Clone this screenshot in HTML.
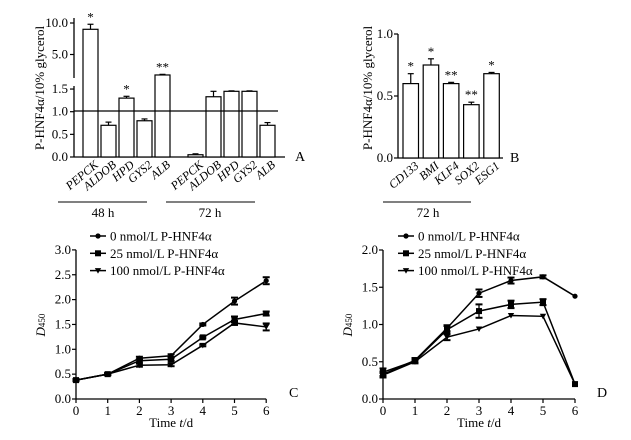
<!DOCTYPE html>
<html><head><meta charset="utf-8">
<style>
html,body{margin:0;padding:0;background:#fff;}
svg, svg text{font-family:"Liberation Serif","DejaVu Serif",serif;}
</style></head>
<body>
<svg id="fig" width="631" height="435" viewBox="0 0 631 435" xmlns="http://www.w3.org/2000/svg" font-family="Liberation Serif, DejaVu Serif, serif"></svg>
<script>
// Panel A data
const aGenes = ["PEPCK","ALDOB","HPD","GYS2","ALB"];
const a48 = [9.0, 0.70, 1.30, 0.80, 1.75];
const a48err = [0.8, 0.07, 0.04, 0.04, 0.1];
const a48sig = ["*","","*","","**"];
const a72 = [0.05, 1.33, 1.45, 1.45, 0.70];
const a72err = [0.02, 0.12, 0.01, 0.01, 0.06];
const aLowTicks = ["0.0","0.5","1.0","1.5"];
const aHighTicks = ["5.0","10.0"];
// Panel B data
const bGenes = ["CD133","BMI","KLF4","SOX2","ESG1"];
const bVals = [0.60, 0.75, 0.60, 0.43, 0.68];
const bErr = [0.08, 0.05, 0.01, 0.02, 0.01];
const bSig = ["*","*","**","**","*"];
const bTicks = ["0.0","0.5","1.0"];
// Panel C data
const days = [0,1,2,3,4,5,6];
const c0 = [0.38,0.50,0.82,0.87,1.50,1.97,2.38];
const c0err = [0.02,0.02,0.03,0.03,0.02,0.07,0.07];
const c25 = [0.38,0.50,0.77,0.80,1.24,1.60,1.72];
const c25err = [0.02,0.02,0.03,0.03,0.02,0.06,0.04];
const c100 = [0.38,0.50,0.68,0.69,1.08,1.53,1.45];
const c100err = [0.02,0.02,0.03,0.03,0.02,0.04,0.07];
const cTicks = ["0.0","0.5","1.0","1.5","2.0","2.5","3.0"];
// Panel D data
const d0 = [0.33,0.52,0.95,1.42,1.59,1.64,1.38];
const d0err = [0.04,0.03,0.04,0.05,0.04,0.02,0.01];
const d25 = [0.36,0.51,0.93,1.18,1.27,1.30,0.20];
const d25err = [0.05,0.03,0.05,0.09,0.05,0.04,0.01];
const d100 = [0.32,0.50,0.83,0.94,1.12,1.11,0.20];
const d100err = [0.03,0.02,0.04,0.01,0.01,0.01,0.01];
const dTicks = ["0.0","0.5","1.0","1.5","2.0"];
const seriesNames = ["0 nmol/L P-HNF4α","25 nmol/L P-HNF4α","100 nmol/L P-HNF4α"];

const NS="http://www.w3.org/2000/svg";
const svg=document.getElementById('fig');
function mk(tag,attrs,parent){const e=document.createElementNS(NS,tag);for(const k in attrs)e.setAttribute(k,attrs[k]);(parent||svg).appendChild(e);return e;}
function line(x1,y1,x2,y2,w,name){const e=mk('line',{x1,y1,x2,y2,stroke:'#000','stroke-width':w||1.3});

return e;}
function text(x,y,s,opts,name){const e=mk('text',Object.assign({x,y,'font-size':13,fill:'#000','font-family':'Liberation Serif, DejaVu Serif, serif'},opts||{}));e.textContent=s;

return e;}

// ---------- Panel A ----------
const aAx=74, aBase=157;
const yLow=v=>aBase - v*45.3;
const yHigh=v=>54.5 - (v-5)*6.3;
const aY=v=> v<=1.5 ? yLow(v) : yHigh(v);
line(aAx,18,aAx,78,1.3,'a-y-axis-upper');
line(aAx,86,aAx,aBase,1.3,'a-y-axis-lower');
line(aAx,aBase,285,aBase,1.3,'a-x-axis');
aLowTicks.forEach(t=>{const y=yLow(+t);line(aAx-4,y,aAx,y,1.2,'a-tick');text(aAx-6,y+4,t,{'text-anchor':'end'},'a-tick-label');});
aHighTicks.forEach(t=>{const y=yHigh(+t);line(aAx-4,y,aAx,y,1.2,'a-tick');text(aAx-6,y+4,t,{'text-anchor':'end'},'a-tick-label');});
function aBars(vals,errs,sigs,x0,grp){
  vals.forEach((v,i)=>{
    const x=x0+i*18, w=15, top=aY(v);
    const r=mk('rect',{x,y:top,width:w,height:aBase-top,fill:'#fff',stroke:'#000','stroke-width':1.2});
    
    
    const et=aY(v+errs[i]);
    line(x+w/2,top,x+w/2,et,1.2,'a-error-bar');line(x+w/2-3,et,x+w/2+3,et,1.2,'a-error-cap');
    if(sigs&&sigs[i])text(x+w/2,et-3,sigs[i],{'text-anchor':'middle','font-size':13},'a-significance');
    text(x+w+1,aBase+9,aGenes[i],{'text-anchor':'end','font-style':'italic','font-size':12,transform:`rotate(-40 ${x+w+1} ${aBase+9})`},'a-gene-label');
  });
}
aBars(a48,a48err,a48sig,83,'48h');
aBars(a72,a72err,null,188,'72h');
line(aAx,111,278,111,1.3,'a-reference-line-1');
text(295,161,'A',{'font-size':14},'panel-a-letter');
line(58,202,147,202,1,'group-line-48h');text(103,217,'48 h',{'text-anchor':'middle'},'group-label-48h');
line(166,202,255,202,1,'group-line-72h');text(210,217,'72 h',{'text-anchor':'middle'},'group-label-72h');
text(44,88,'P-HNF4α/10% glycerol',{'text-anchor':'middle',transform:'rotate(-90 44 88)'},'a-y-axis-title');

// ---------- Panel B ----------
const bAx=398, bBase=158;
const bY=v=>bBase - v*124;
line(bAx,bY(1),bAx,bBase,1.3,'b-y-axis');line(bAx,bBase,503,bBase,1.3,'b-x-axis');
bTicks.forEach(t=>{const y=bY(+t);line(bAx-4,y,bAx,y,1.2,'b-tick');text(bAx-5,y+4,t,{'text-anchor':'end'},'b-tick-label');});
bVals.forEach((v,i)=>{
  const x=403+i*20.2,w=15.5,top=bY(v);
  const r=mk('rect',{x,y:top,width:w,height:bBase-top,fill:'#fff',stroke:'#000','stroke-width':1.2});
  
  
  const et=bY(v+bErr[i]);
  line(x+w/2,top,x+w/2,et,1.2,'b-error-bar');line(x+w/2-3,et,x+w/2+3,et,1.2,'b-error-cap');
  text(x+w/2,et-3,bSig[i],{'text-anchor':'middle'},'b-significance');
  text(x+w+1,bBase+9,bGenes[i],{'text-anchor':'end','font-style':'italic','font-size':12,transform:`rotate(-40 ${x+w+1} ${bBase+9})`},'b-gene-label');
});
text(510,162,'B',{'font-size':14},'panel-b-letter');
line(383,202,471,202,1,'group-line-b-72h');text(428,217,'72 h',{'text-anchor':'middle'},'b-group-label-72h');
text(372,88,'P-HNF4α/10% glycerol',{'text-anchor':'middle',transform:'rotate(-90 372 88)'},'b-y-axis-title');

// ---------- Line panels ----------
function marker(type,x,y,name){
  let e;
  if(type===0)e=mk('circle',{cx:x,cy:y,r:2.6,fill:'#000'});
  else if(type===1)e=mk('rect',{x:x-3,y:y-3,width:6,height:6,fill:'#000'});
  else e=mk('path',{d:`M${x-3.2},${y-2.5}L${x+3.2},${y-2.5}L${x},${y+3}Z`,fill:'#000'});
  
  
}
function linePanel(p,series,errs,ticks,letter){
  const X=d=>p.x0+d*p.dx, Y=v=>p.y0-v*p.dy;
  line(p.x0,Y(+ticks[ticks.length-1]),p.x0,p.y0,1.3,p.id+'-y-axis');
  line(p.x0,p.y0,X(6),p.y0,1.3,p.id+'-x-axis');
  ticks.forEach(t=>{const y=Y(+t);line(p.x0-4,y,p.x0,y,1.2,p.id+'-y-tick');text(p.x0-5,y+4,t,{'text-anchor':'end'},p.id+'-y-tick-label');});
  days.forEach(d=>{line(X(d),p.y0,X(d),p.y0+4,1.2,p.id+'-x-tick');text(X(d),p.y0+16,String(d),{'text-anchor':'middle'},p.id+'-x-tick-label');});
  series.forEach((s,si)=>{
    const pl=mk('polyline',{points:s.map((v,i)=>X(days[i])+','+Y(v)).join(' '),fill:'none',stroke:'#000','stroke-width':1.5});
    
    
    s.forEach((v,i)=>{
      const e=errs[si][i],x=X(days[i]);
      if(e>0.015){line(x,Y(v-e),x,Y(v+e),1.3,'error-bar');line(x-3.5,Y(v-e),x+3.5,Y(v-e),2,'error-cap');line(x-3.5,Y(v+e),x+3.5,Y(v+e),2,'error-cap');}
      marker(si,x,Y(v),p.id+'-point-'+si);
    });
  });
  seriesNames.forEach((n,i)=>{const y=236+i*17.3;line(p.lx,y,p.lx+16,y,1.5,p.id+'-legend-line');marker(i,p.lx+8,y,p.id+'-legend-marker');text(p.lx+20,y+4.5,n,{},p.id+'-legend-entry');});
  text(p.letX,p.y0-2,letter,{'font-size':14},'panel-letter-'+letter);
  const t=text(X(3),427,'',{'text-anchor':'middle'},p.id+'-x-axis-title');
  t.innerHTML='Time <tspan font-style="italic">t</tspan>/d';
  const yt=text(p.ytx,325,'',{'text-anchor':'middle',transform:`rotate(-90 ${p.ytx} 325)`},p.id+'-y-axis-title');
  yt.innerHTML='<tspan font-style="italic">D</tspan><tspan font-size="9">450</tspan>';
}
linePanel({id:'c',x0:76,dx:31.7,y0:399,dy:49.7,lx:90,letX:289,ytx:45},[c0,c25,c100],[c0err,c25err,c100err],cTicks,'C');
linePanel({id:'d',x0:383,dx:32,y0:399,dy:74.5,lx:398,letX:597,ytx:352},[d0,d25,d100],[d0err,d25err,d100err],dTicks,'D');
</script>
</body></html>
